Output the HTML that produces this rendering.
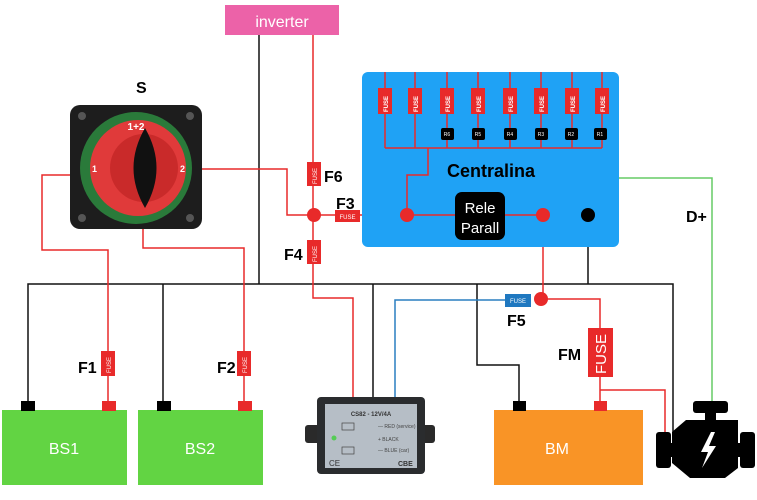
<!DOCTYPE html>
<html><head><meta charset="utf-8"><style>
html,body{margin:0;padding:0;background:#fff;}
svg{display:block;font-family:"Liberation Sans",sans-serif;}
</style></head><body>
<svg width="757" height="500" viewBox="0 0 757 500" xmlns="http://www.w3.org/2000/svg">
<g stroke="#111" stroke-width="1.5" fill="none">
<polyline points="28,401 28,284 673,284 673,432"/>
<line x1="163" y1="284" x2="163" y2="401"/>
<line x1="259" y1="35" x2="259" y2="284"/>
<line x1="373" y1="284" x2="373" y2="400"/>
<polyline points="477,284 477,365 519,365 519,401"/>
<line x1="588" y1="215" x2="588" y2="284"/>
</g>
<polyline points="619,178 712,178 712,402" stroke="#6c6" stroke-width="1.5" fill="none"/>
<polyline points="505,300 395,300 395,398" stroke="#2a7fc0" stroke-width="1.5" fill="none"/>
<g stroke="#e82a2a" stroke-width="1.5" fill="none">
<line x1="313" y1="35" x2="313" y2="215"/>
<polyline points="202,169 287,169 287,215 407,215"/>
<polyline points="313,215 313,298 353,298 353,398"/>
<polyline points="70,175 42,175 42,250 108,250 108,401"/>
<polyline points="143,228 143,248 244,248 244,401"/>
<line x1="543" y1="215" x2="543" y2="299"/>
<polyline points="543,299 600,299 600,401"/>
<polyline points="600,390 665,390 665,432"/>
</g>
<rect x="225" y="5" width="114" height="30" fill="#ec62a8"/>
<text x="282" y="27" font-size="16" fill="#fff" text-anchor="middle">inverter</text>
<rect x="362" y="72" width="257" height="175" rx="6" fill="#1fa2f5"/>
<g stroke="#e82a2a" stroke-width="1.5" fill="none">
<line x1="385" y1="72" x2="385" y2="148"/><line x1="415" y1="72" x2="415" y2="148"/>
<line x1="447" y1="72" x2="447" y2="148"/><line x1="478" y1="72" x2="478" y2="148"/>
<line x1="510" y1="72" x2="510" y2="148"/><line x1="541" y1="72" x2="541" y2="148"/>
<line x1="572" y1="72" x2="572" y2="148"/><line x1="602" y1="72" x2="602" y2="148"/>
<line x1="385" y1="148" x2="602" y2="148"/>
<polyline points="428,148 428,175 407,175 407,215"/>
<line x1="407" y1="215" x2="543" y2="215"/>
</g>
<g fill="#e82a2a">
<rect x="378" y="88" width="14" height="26"/><rect x="408" y="88" width="14" height="26"/>
<rect x="440" y="88" width="14" height="26"/><rect x="471" y="88" width="14" height="26"/>
<rect x="503" y="88" width="14" height="26"/><rect x="534" y="88" width="14" height="26"/>
<rect x="565" y="88" width="14" height="26"/><rect x="595" y="88" width="14" height="26"/>
</g>
<g font-size="6" fill="#fff" font-weight="bold">
<text transform="translate(388,112) rotate(-90)">FUSE</text><text transform="translate(418,112) rotate(-90)">FUSE</text>
<text transform="translate(450,112) rotate(-90)">FUSE</text><text transform="translate(481,112) rotate(-90)">FUSE</text>
<text transform="translate(513,112) rotate(-90)">FUSE</text><text transform="translate(544,112) rotate(-90)">FUSE</text>
<text transform="translate(575,112) rotate(-90)">FUSE</text><text transform="translate(605,112) rotate(-90)">FUSE</text>
</g>
<g fill="#000">
<rect x="441" y="128" width="13" height="12" rx="2"/><rect x="472" y="128" width="13" height="12" rx="2"/>
<rect x="504" y="128" width="13" height="12" rx="2"/><rect x="535" y="128" width="13" height="12" rx="2"/>
<rect x="565" y="128" width="13" height="12" rx="2"/><rect x="594" y="128" width="13" height="12" rx="2"/>
</g>
<g font-size="5" fill="#fff" text-anchor="middle">
<text x="447" y="136">R6</text><text x="478" y="136">R5</text><text x="510" y="136">R4</text>
<text x="541" y="136">R3</text><text x="571" y="136">R2</text><text x="600" y="136">R1</text>
</g>
<text x="491" y="177" font-size="18" font-weight="bold" fill="#000" text-anchor="middle">Centralina</text>
<rect x="455" y="192" width="50" height="48" rx="7" fill="#000"/>
<text x="480" y="213" font-size="15" fill="#fff" text-anchor="middle">Rele</text>
<text x="480" y="233" font-size="15" fill="#fff" text-anchor="middle">Parall</text>
<circle cx="407" cy="215" r="7" fill="#e82a2a"/>
<circle cx="543" cy="215" r="7" fill="#e82a2a"/>
<circle cx="588" cy="215" r="7" fill="#000"/>
<circle cx="314" cy="215" r="7" fill="#e82a2a"/>
<circle cx="541" cy="299" r="7" fill="#e82a2a"/>
<rect x="307" y="162" width="14" height="24" fill="#e82a2a"/>
<text transform="translate(317,184) rotate(-90)" font-size="6" fill="#fff">FUSE</text>
<rect x="335" y="210" width="25" height="12" fill="#e82a2a"/>
<text x="347.5" y="219" font-size="6" fill="#fff" text-anchor="middle">FUSE</text>
<rect x="307" y="240" width="14" height="24" fill="#e82a2a"/>
<text transform="translate(317,262) rotate(-90)" font-size="6" fill="#fff">FUSE</text>
<rect x="101" y="351" width="14" height="25" fill="#e82a2a"/>
<text transform="translate(111,373) rotate(-90)" font-size="6" fill="#fff">FUSE</text>
<rect x="237" y="351" width="14" height="25" fill="#e82a2a"/>
<text transform="translate(247,373) rotate(-90)" font-size="6" fill="#fff">FUSE</text>
<rect x="505" y="294" width="26" height="13" fill="#1f78c0"/>
<text x="518" y="303" font-size="6" fill="#fff" text-anchor="middle">FUSE</text>
<rect x="588" y="328" width="25" height="49" fill="#e82a2a"/>
<text transform="translate(606,374) rotate(-90)" font-size="15" fill="#fff">FUSE</text>
<g font-size="16" font-weight="bold" fill="#000">
<text x="136" y="93">S</text>
<text x="324" y="182">F6</text>
<text x="336" y="209">F3</text>
<text x="284" y="260">F4</text>
<text x="78" y="373">F1</text>
<text x="217" y="373">F2</text>
<text x="507" y="326">F5</text>
<text x="558" y="360">FM</text>
<text x="686" y="222">D+</text>
</g>
<rect x="70" y="105" width="132" height="124" rx="10" fill="#1d1d1d"/>
<circle cx="82" cy="116" r="4" fill="#555"/><circle cx="190" cy="116" r="4" fill="#555"/>
<circle cx="82" cy="218" r="4" fill="#555"/><circle cx="190" cy="218" r="4" fill="#555"/>
<circle cx="136" cy="168" r="56" fill="#2a7a3a"/>
<circle cx="138" cy="168" r="48" fill="#e03a3a"/>
<circle cx="144" cy="168" r="34" fill="#c92a2a"/>
<path d="M145,128 Q168,168 145,208 Q122,168 145,128 Z" fill="#111"/>
<text x="136" y="130" font-size="10" font-weight="bold" fill="#fff" text-anchor="middle">1+2</text>
<text x="92" y="172" font-size="9" font-weight="bold" fill="#fff">1</text>
<text x="180" y="172" font-size="9" font-weight="bold" fill="#fff">2</text>
<rect x="2" y="410" width="125" height="75" fill="#62d443"/>
<rect x="138" y="410" width="125" height="75" fill="#62d443"/>
<rect x="494" y="410" width="149" height="75" fill="#f99426"/>
<g fill="#000"><rect x="21" y="401" width="14" height="10"/><rect x="157" y="401" width="14" height="10"/><rect x="513" y="401" width="13" height="10"/></g>
<g fill="#e82a2a"><rect x="102" y="401" width="14" height="10"/><rect x="238" y="401" width="14" height="10"/><rect x="594" y="401" width="13" height="10"/></g>
<g font-size="16" fill="#fff" text-anchor="middle">
<text x="64" y="454">BS1</text><text x="200" y="454">BS2</text><text x="557" y="454">BM</text>
</g>
<rect x="305" y="425" width="130" height="18" rx="3" fill="#2a2a2a"/>
<rect x="317" y="397" width="108" height="77" rx="4" fill="#2a2c2e"/>
<rect x="325" y="404" width="92" height="64" fill="#b6bec6"/>
<text x="371" y="416" font-size="6" font-weight="bold" fill="#333" text-anchor="middle">CS82 - 12V/4A</text>
<text x="378" y="428" font-size="5" fill="#444">— RED (service)</text>
<text x="378" y="441" font-size="5" fill="#444">+ BLACK</text>
<text x="378" y="452" font-size="5" fill="#444">— BLUE (car)</text>
<rect x="342" y="423" width="12" height="7" fill="none" stroke="#444" stroke-width="0.7"/>
<rect x="342" y="447" width="12" height="7" fill="none" stroke="#444" stroke-width="0.7"/>
<circle cx="334" cy="438" r="2.5" fill="#5c5"/>
<text x="329" y="466" font-size="8" fill="#333">CE</text>
<text x="398" y="466" font-size="7" font-weight="bold" fill="#333">CBE</text>
<g fill="#000">
<rect x="693" y="401" width="35" height="12" rx="3"/>
<rect x="705" y="412" width="11" height="9"/>
<polygon points="686,420 738,420 738,468 725,478 690,478 672,463 672,432"/>
<rect x="656" y="432" width="15" height="36" rx="3"/>
<rect x="665" y="443" width="10" height="14"/>
<rect x="740" y="432" width="15" height="36" rx="3"/>
<rect x="735" y="443" width="8" height="14"/>
</g>
<polygon points="711,432 701,452 708,452 702,468 716,446 709,446 715,432" fill="#fff"/>
</svg>
</body></html>
